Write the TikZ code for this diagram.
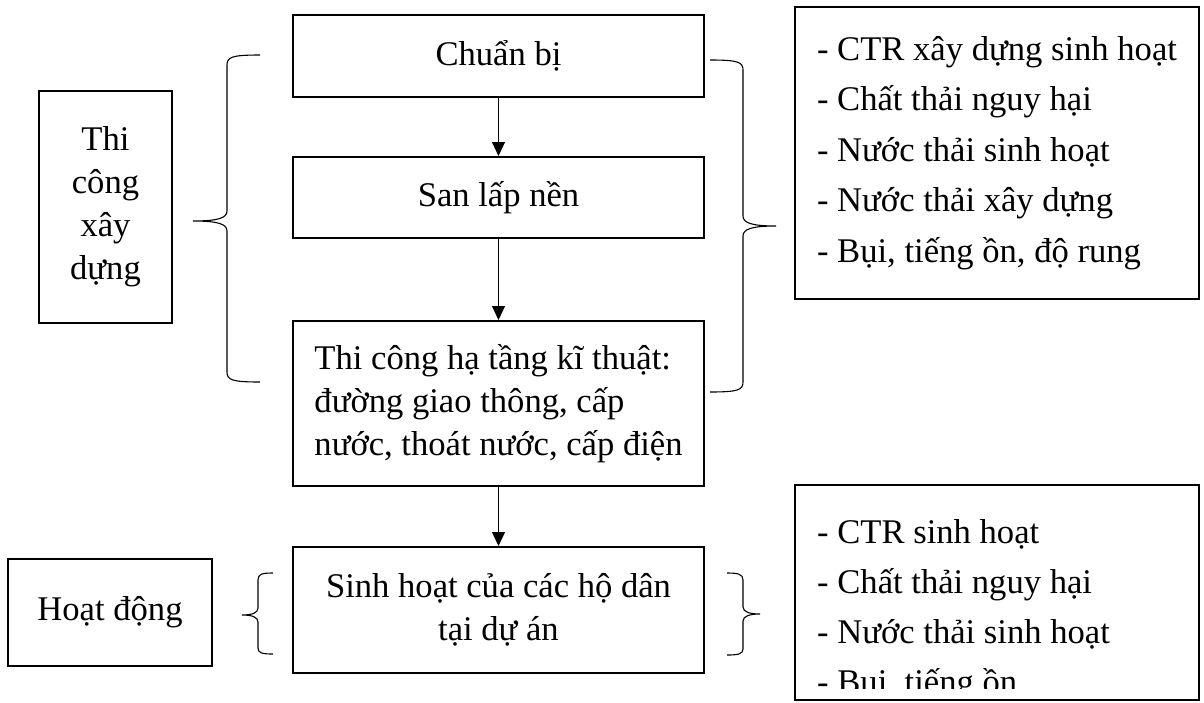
\documentclass[tikz,border=0pt]{standalone}
\usepackage{fontspec}
\setmainfont{Liberation Serif}
\usetikzlibrary{arrows.meta}
\begin{document}
\begin{tikzpicture}[x=1pt,y=-1pt,
  box/.style={draw,line width=2pt,inner sep=0pt,font=\fontsize{34.6}{43}\selectfont},
  listtext/.style={inner sep=0pt,anchor=base west,font=\fontsize{34.6}{50}\selectfont},
  bracestyle/.style={line width=1.1pt},
  flow/.style={line width=1.1pt,-{Triangle[width=13pt,length=14pt]}}]
\useasboundingbox (0,0) rectangle (1204,702);
\fill[white] (0,0) rectangle (1204,702);

% central flow
\node[box,minimum width=411pt,minimum height=82pt] (cb) at (498.5,56) {Chuẩn bị};
\node[box,minimum width=411pt,minimum height=81pt] (sl) at (498.5,197.5) {San lấp nền};
\node[box,minimum width=411pt,minimum height=165pt,align=left] (ht) at (498.5,403.5)
  {Thi công hạ tầng kĩ thuật:\\đường giao thông, cấp\\nước, thoát nước, cấp điện};
\node[box,minimum width=411pt,minimum height=126pt,align=center] (sh) at (498.5,610)
  {Sinh hoạt của các hộ dân\\tại dự án};

\draw[flow] (cb.south) -- (sl.north);
\draw[flow] (sl.south) -- (ht.north);
\draw[flow] (ht.south) -- (sh.north);

% left boxes
\node[box,minimum width=133pt,minimum height=232pt,align=center] (tc) at (105.5,207)
  {Thi\\công\\xây\\dựng};
\node[box,minimum width=204pt,minimum height=107pt] (hd) at (110,612.5) {Hoạt động};

% right boxes
\node[box,minimum width=404pt,minimum height=292pt,align=left,font=\fontsize{34.6}{50.5}\selectfont] (r1) at (997,153)
  {- CTR xây dựng sinh hoạt\\- Chất thải nguy hại\\- Nước thải sinh hoạt\\- Nước thải xây dựng\\- Bụi, tiếng ồn, độ rung};
\node[box,minimum width=404pt,minimum height=215pt] (r2) at (997,592.5) {};
\begin{scope}
  \clip (796,486) rectangle (1198,688);
  \node[listtext] (r2a) at (817,543) {- CTR sinh hoạt};
  \node[listtext] (r2b) at (817,593) {- Chất thải nguy hại};
  \node[listtext] (r2c) at (817,643) {- Nước thải sinh hoạt};
  \node[listtext] (r2d) at (817,693) {- Bụi, tiếng ồn};
\end{scope}

% braces
\draw[bracestyle] (260,55) .. controls (232,55) and (227,57) .. (227,65) -- (227,211)
  .. controls (227,218) and (218,221) .. (193,221)
  .. controls (218,221) and (227,224) .. (227,231) -- (227,372)
  .. controls (227,380) and (232,382) .. (260,382);
\draw[bracestyle] (710,60) .. controls (738,60) and (743,62) .. (743,70) -- (743,216)
  .. controls (743,223) and (752,226) .. (776,226)
  .. controls (752,226) and (743,229) .. (743,236) -- (743,382)
  .. controls (743,390) and (738,392) .. (710,392);
\draw[bracestyle] (273,573) .. controls (262,573) and (258,574) .. (258,580) -- (258,608)
  .. controls (258,613) and (252,615) .. (242,615)
  .. controls (252,615) and (258,617) .. (258,622) -- (258,648)
  .. controls (258,653) and (262,654) .. (273,654);
\draw[bracestyle] (727,573) .. controls (738,573) and (743,574) .. (743,580) -- (743,607)
  .. controls (743,612) and (750,614) .. (760,614)
  .. controls (750,614) and (743,616) .. (743,621) -- (743,649)
  .. controls (743,654) and (738,655) .. (727,655);
\end{tikzpicture}
\end{document}
